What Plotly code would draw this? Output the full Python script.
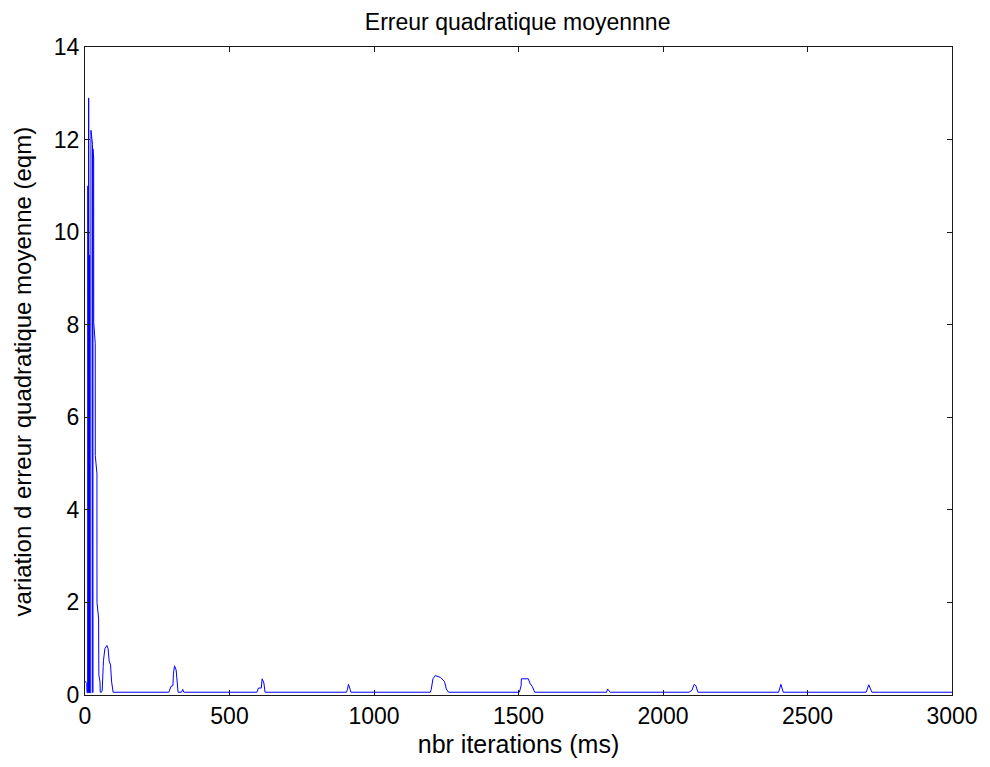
import plotly.graph_objects as go

# iteration (ms) and mean squared error values
iterations = [0, 6, 7, 9, 10, 10.5, 12.2, 12.7, 13.2, 15.5, 16, 16.5, 20, 20.6, 26, 26.3, 27, 27.5,
              30, 30.2, 35.4, 35.6, 41.3, 41.5, 47, 48, 51.6, 53,
              57, 59.5, 63, 64, 68.8, 75.7, 80, 83.6, 88.4, 91.8, 97.3,
              290, 298, 304, 306, 309.6, 315.4, 318.9, 322, 334, 338, 342,
              595, 600, 610, 613, 619, 623,
              905, 908, 911.6, 917, 920,
              1195, 1198, 1204, 1212, 1230, 1244, 1250, 1258,
              1503, 1509, 1510, 1534, 1540, 1548, 1556,
              1805, 1808, 1817,
              2090, 2100, 2108, 2114, 2116, 2121,
              2400, 2408, 2416,
              2703, 2712, 2723,
              3000]
eqm = [0.3, 0.25, 0.05, 0.05, 11.0, 0.05, 0.05, 12.9, 0.05, 0.05, 9.5, 0.05, 0.05, 12.2, 11.9, 0.05, 0.05, 11.8,
       11.6, 8.05, 7.6, 5.17, 4.78, 2.0, 1.66, 0.43, 0.3, 0.06,
       0.06, 0.1, 0.62, 0.75, 1.0, 1.07, 1.0, 0.73, 0.65, 0.3, 0.06,
       0.06, 0.19, 0.2, 0.45, 0.63, 0.54, 0.32, 0.06, 0.06, 0.12, 0.06,
       0.06, 0.15, 0.15, 0.35, 0.26, 0.06,
       0.06, 0.12, 0.23, 0.13, 0.06,
       0.06, 0.12, 0.35, 0.42, 0.38, 0.29, 0.13, 0.06,
       0.06, 0.2, 0.35, 0.35, 0.25, 0.18, 0.06,
       0.06, 0.13, 0.06,
       0.06, 0.1, 0.23, 0.2, 0.15, 0.06,
       0.06, 0.23, 0.06,
       0.06, 0.22, 0.06,
       0.06]

x_ticks = [0, 500, 1000, 1500, 2000, 2500, 3000]
y_ticks = [0, 2, 4, 6, 8, 10, 12, 14]

fig = go.Figure()
fig.add_trace(go.Scatter(x=iterations, y=eqm, mode="lines",
                         line=dict(color="#0000ff", width=1), showlegend=False))

font = "Liberation Sans, Arial, sans-serif"
axis_common = dict(showline=True, linecolor="#1a1a1a", linewidth=1, mirror="ticks",
                   ticks="inside", ticklen=5, tickcolor="#1a1a1a", showgrid=False,
                   zeroline=False, tickfont=dict(family=font, size=23, color="black"))

fig.update_layout(
    width=982, height=759,
    margin=dict(l=77, r=33, t=39, b=72),
    paper_bgcolor="white", plot_bgcolor="white",
    title=dict(text="Erreur quadratique moyennne", x=0.519, xanchor="center",
               yref="container", y=0.981, yanchor="middle",
               font=dict(family=font, size=23, color="black")),
    xaxis=dict(range=[0, 3000], tickvals=x_ticks,
               title=dict(text="nbr iterations (ms)", font=dict(family=font, size=25, color="black"),
                          standoff=7),
               **axis_common),
    yaxis=dict(range=[0, 14], tickvals=y_ticks, **axis_common),
    annotations=[dict(text="variation d erreur quadratique moyenne (eqm)",
                      xref="paper", yref="paper", x=-0.0722, y=0.5,
                      xanchor="center", yanchor="middle", textangle=-90,
                      showarrow=False,
                      font=dict(family=font, size=24, color="black"))],
)

fig.write_html("out.html")
